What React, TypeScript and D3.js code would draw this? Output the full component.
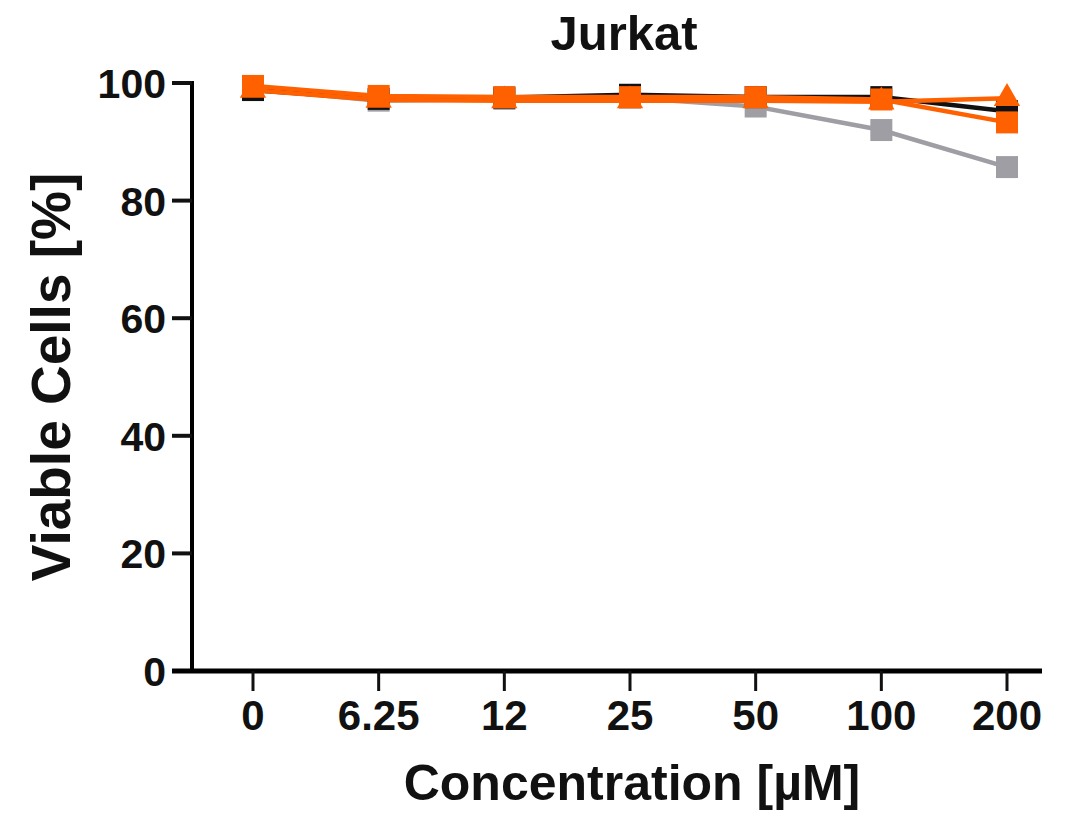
import React from "react";
import * as d3 from "d3";

const categories = ["0", "6.25", "12", "25", "50", "100", "200"];
const blackSeries = [98.8, 97.3, 97.5, 98.0, 97.6, 97.6, 95.2];
const graySeries = [99.0, 97.0, 97.3, 97.5, 96.0, 92.0, 85.7];
const orangeSquares = [99.5, 97.8, 97.6, 97.6, 97.6, 97.2, 93.3];
const orangeTriangles = [98.8, 97.1, 97.0, 97.0, 97.0, 96.8, 97.4];
const yTicks = [0, 20, 40, 60, 80, 100];

const FONT = "'Liberation Sans', Arial, Helvetica, sans-serif";

export default function App() {
  const W = 1086, H = 813;
  const x = d3.scalePoint<string>().domain(categories).range([253, 1007]);
  const y = d3.scaleLinear().domain([0, 100]).range([671, 83]);

  const line = d3
    .line<number>()
    .x((_, i) => x(categories[i]) as number)
    .y((d) => y(d));

  const square = d3.symbol().type(d3.symbolSquare).size(22 * 22)() as string;
  const triangle = d3.symbol().type(d3.symbolTriangle).size(300)() as string;

  const series = [
    { data: graySeries, color: "#9e9ea4", marker: square },
    { data: blackSeries, color: "#111111", marker: square },
    { data: orangeTriangles, color: "#ff6000", marker: triangle },
    { data: orangeSquares, color: "#ff6000", marker: square },
  ];

  return (
    <svg
      width={W}
      height={H}
      style={{ position: "absolute", left: 0, top: 0, background: "#fff" }}
      fontFamily={FONT}
      fontWeight="bold"
    >
      <rect width={W} height={H} fill="#fff" />
      <text x={624} y={50} textAnchor="middle" fontSize={49} fill="#111">
        Jurkat
      </text>

      {/* y axis */}
      <line x1={192} x2={192} y1={y(100) - 2} y2={y(0) + 2} stroke="#000" strokeWidth={4} />
      {yTicks.map((t) => (
        <g key={t}>
          <line x1={172} x2={192} y1={y(t)} y2={y(t)} stroke="#111" strokeWidth={4} />
          <text x={166} y={y(t) + 15} textAnchor="end" fontSize={41} fill="#111">
            {t}
          </text>
        </g>
      ))}

      {/* x axis */}
      <line x1={172} x2={1042} y1={y(0)} y2={y(0)} stroke="#000" strokeWidth={5} />
      {categories.map((c) => (
        <g key={c}>
          <line x1={x(c)} x2={x(c)} y1={y(0)} y2={y(0) + 20} stroke="#111" strokeWidth={3} />
          <text x={x(c)} y={730} textAnchor="middle" fontSize={42} fill="#111">
            {c}
          </text>
        </g>
      ))}

      <text x={632} y={800} textAnchor="middle" fontSize={50} fill="#111">
        Concentration [µM]
      </text>
      <text
        transform={`translate(70, 377) rotate(-90)`}
        textAnchor="middle"
        fontSize={55}
        fill="#111"
      >
        Viable Cells [%]
      </text>

      {series.map((s, si) => (
        <g key={si}>
          <path d={line(s.data) as string} fill="none" stroke={s.color} strokeWidth={4.5} />
          {s.data.map((v, i) => (
            <path
              key={i}
              d={s.marker}
              transform={`translate(${x(categories[i])},${y(v)})`}
              fill={s.color}
            />
          ))}
        </g>
      ))}
    </svg>
  );
}
